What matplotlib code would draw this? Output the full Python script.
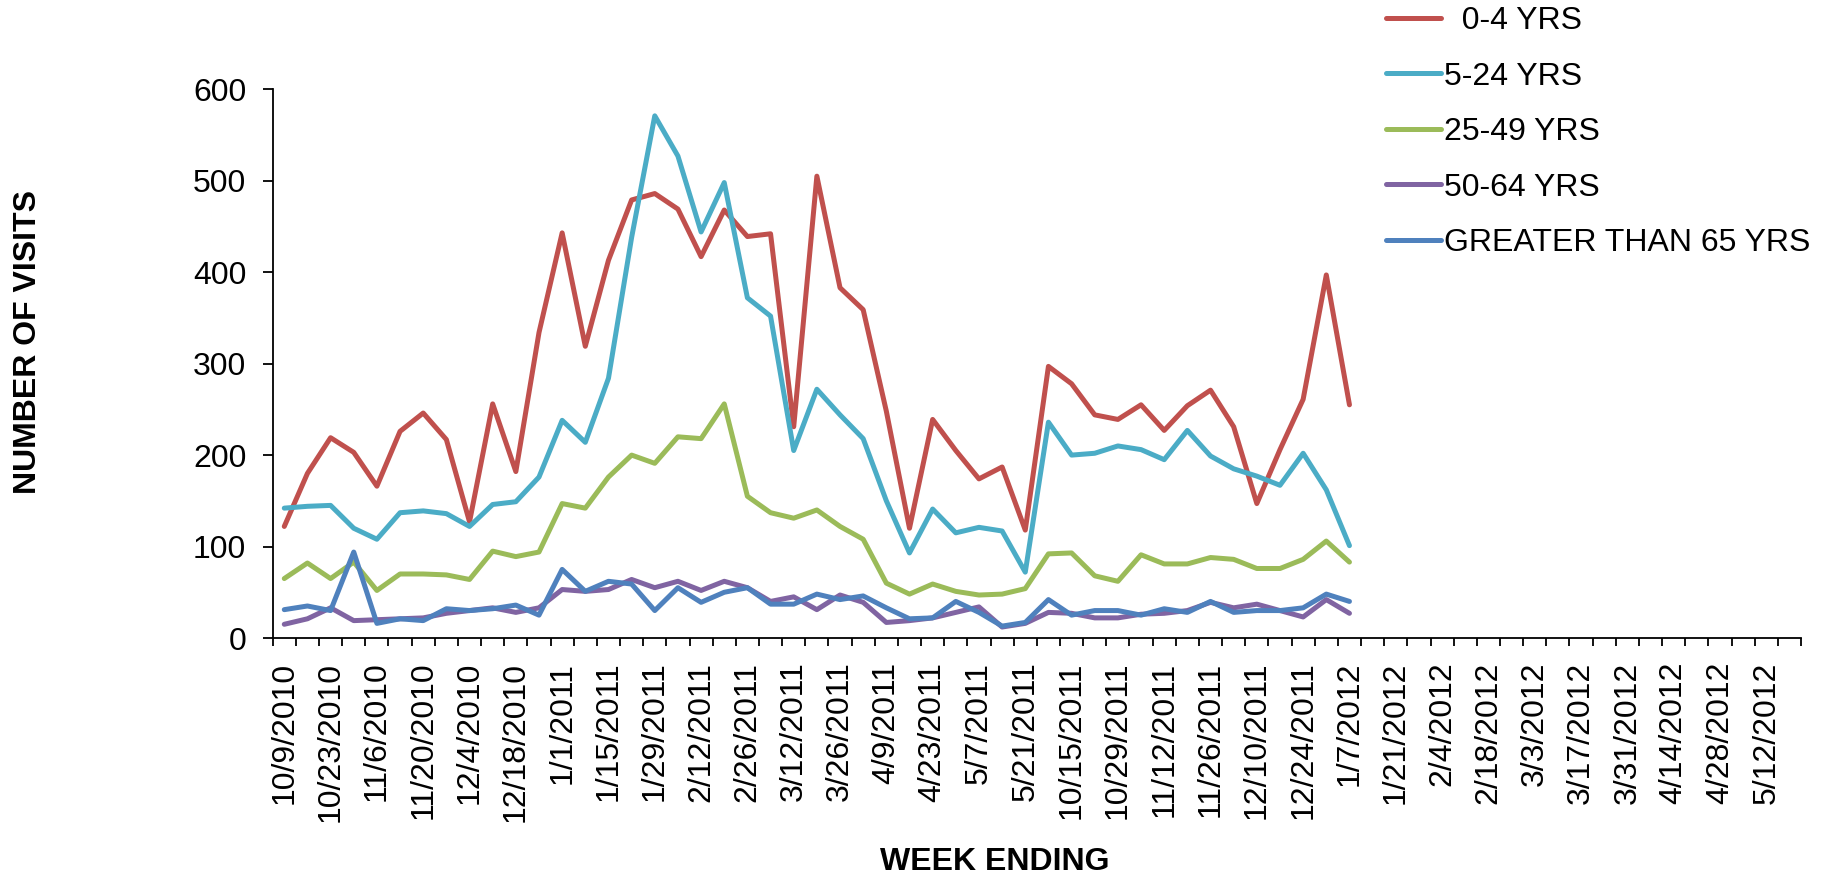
import numpy as np
import matplotlib
matplotlib.use("Agg")
import matplotlib.pyplot as plt
from matplotlib.ticker import FixedLocator

plt.rcParams["font.family"] = ["Liberation Sans", "DejaVu Sans"]

# --- data: weekly counts ---
weeks = [
    "10/9/2010", "10/16/2010", "10/23/2010", "10/30/2010", "11/6/2010", "11/13/2010",
    "11/20/2010", "11/27/2010", "12/4/2010", "12/11/2010", "12/18/2010", "12/25/2010",
    "1/1/2011", "1/8/2011", "1/15/2011", "1/22/2011", "1/29/2011", "2/5/2011",
    "2/12/2011", "2/19/2011", "2/26/2011", "3/5/2011", "3/12/2011", "3/19/2011",
    "3/26/2011", "4/2/2011", "4/9/2011", "4/16/2011", "4/23/2011", "4/30/2011",
    "5/7/2011", "5/14/2011", "5/21/2011", "10/8/2011", "10/15/2011", "10/22/2011",
    "10/29/2011", "11/5/2011", "11/12/2011", "11/19/2011", "11/26/2011", "12/3/2011",
    "12/10/2011", "12/17/2011", "12/24/2011", "12/31/2011", "1/7/2012", "1/14/2012",
    "1/21/2012", "1/28/2012", "2/4/2012", "2/11/2012", "2/18/2012", "2/25/2012",
    "3/3/2012", "3/10/2012", "3/17/2012", "3/24/2012", "3/31/2012", "4/7/2012",
    "4/14/2012", "4/21/2012", "4/28/2012", "5/5/2012", "5/12/2012", "5/19/2012",
]

age_0_4 = [122, 180, 219, 203, 166, 226, 246, 217, 127, 256, 182, 334,
           443, 319, 413, 479, 486, 469, 417, 468, 439, 442, 231, 505,
           383, 359, 248, 120, 239, 205, 174, 187, 118, 297, 278, 244,
           239, 255, 227, 254, 271, 231, 147, 206, 261, 397, 255]
age_5_24 = [142, 144, 145, 120, 108, 137, 139, 136, 122, 146, 149, 176,
            238, 214, 284, 438, 571, 527, 444, 498, 372, 352, 205, 272,
            244, 218, 150, 93, 141, 115, 121, 117, 72, 236, 200, 202,
            210, 206, 195, 227, 199, 185, 177, 167, 202, 162, 101]
age_25_49 = [65, 82, 65, 83, 52, 70, 70, 69, 64, 95, 89, 94,
             147, 142, 176, 200, 191, 220, 218, 256, 155, 137, 131, 140,
             122, 108, 60, 48, 59, 51, 47, 48, 54, 92, 93, 68,
             62, 91, 81, 81, 88, 86, 76, 76, 86, 106, 83]
age_50_64 = [15, 21, 33, 19, 20, 21, 22, 27, 30, 33, 28, 33,
             53, 51, 53, 64, 55, 62, 52, 62, 55, 40, 45, 31,
             47, 39, 17, 19, 22, 28, 34, 12, 16, 28, 27, 22,
             22, 26, 27, 30, 39, 33, 37, 30, 23, 42, 27]
age_65_plus = [31, 35, 30, 94, 16, 21, 19, 32, 30, 32, 36, 25,
               75, 51, 62, 59, 30, 55, 39, 50, 55, 37, 37, 48,
               42, 46, 33, 21, 22, 40, 28, 13, 17, 42, 25, 30,
               30, 25, 32, 28, 40, 28, 30, 30, 33, 48, 40]

series = [
    ("  0-4 YRS", age_0_4, "#C0504D"),
    ("5-24 YRS", age_5_24, "#4BACC6"),
    ("25-49 YRS", age_25_49, "#9BBB59"),
    ("50-64 YRS", age_50_64, "#8064A2"),
    ("GREATER THAN 65 YRS", age_65_plus, "#4F81BD"),
]

FS = 23

fig = plt.figure(figsize=(18.29, 8.80), dpi=100)
ax = fig.add_axes([272.7 / 1829, 1 - 638 / 880, (1801 - 272.7) / 1829, (638 - 89.3) / 880])

for name, vals, col in series:
    ax.plot(np.arange(len(vals)), vals, color=col, lw=3.6, label=name,
            solid_joinstyle="round", solid_capstyle="round")

ax.set_xlim(-0.5, len(weeks) - 0.5)
ax.set_ylim(0, 600)
ax.set_yticks([0, 100, 200, 300, 400, 500, 600])

# category labels every other week, tick marks between categories
ax.set_xticks(np.arange(0, len(weeks), 2))
ax.set_xticklabels(weeks[::2], rotation=90)
ax.xaxis.set_minor_locator(FixedLocator(np.arange(-0.5, len(weeks), 1)))
ax.tick_params(axis="x", which="major", length=0, pad=17, labelsize=FS)
ax.tick_params(axis="x", which="minor", length=6, width=1.3, direction="out")
ax.tick_params(axis="y", length=7, width=1.3, direction="out", pad=12, labelsize=FS)

for s in ["top", "right"]:
    ax.spines[s].set_visible(False)
for s in ["left", "bottom"]:
    ax.spines[s].set_linewidth(1.3)

fig.text(28 / 1829, 1 - 342 / 880, "NUMBER OF VISITS", rotation=90, fontsize=FS,
         fontweight="bold", ha="center", va="center")
fig.text(995 / 1829, 1 - 862 / 880, "WEEK ENDING", fontsize=FS,
         fontweight="bold", ha="center", va="center")

fig.legend(loc="upper left", bbox_to_anchor=(1386 / 1829, 1 - 6 / 880), frameon=False,
           fontsize=FS, handlelength=1.72, handletextpad=0.1, labelspacing=0.8,
           borderpad=0, borderaxespad=0)

fig.savefig("out.png", dpi=100)
